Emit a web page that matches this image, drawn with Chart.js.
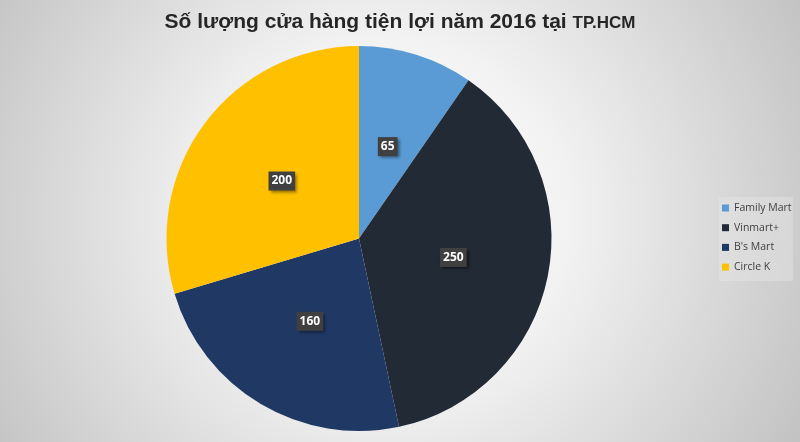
<!DOCTYPE html>
<html>
<head>
<meta charset="utf-8">
<script src="https://cdn.jsdelivr.net/npm/chart.js@4"></script>
<style>
  html, body { margin: 0; padding: 0; }
  body { width: 800px; height: 442px; overflow: hidden; }
  #wrap { width: 800px; height: 442px; position: relative; }
</style>
</head>
<body>
<div id="wrap"><canvas id="chartCanvas"></canvas></div>
<script>
const cuaHang = ["Family Mart", "Vinmart+", "B's Mart", "Circle K"];
const soLuong = [65, 250, 160, 200];
const mauSac = ["#5b9bd5", "#222a35", "#1f3864", "#ffc000"];
const tieuDe = "Số lượng cửa hàng tiện lợi năm 2016 tại ";
const tieuDeNho = "TP.HCM";

// nen xam dang radial
const nenPlugin = {
  id: "nen",
  beforeDraw(chart) {
    const ctx = chart.ctx;
    const w = chart.width, h = chart.height;
    ctx.save();
    const g = ctx.createRadialGradient(390, 215, 20, 390, 215, 470);
    g.addColorStop(0, "#ffffff");
    g.addColorStop(0.35, "#f2f2f2");
    g.addColorStop(1, "#c2c2c2");
    ctx.fillStyle = g;
    ctx.fillRect(0, 0, w, h);
    ctx.restore();
  }
};

// tieu de hai co chu
const tieuDePlugin = {
  id: "tieuDe",
  afterDraw(chart) {
    const ctx = chart.ctx;
    ctx.save();
    ctx.fillStyle = "#262626";
    ctx.textBaseline = "alphabetic";
    const f1 = "bold 21px 'Liberation Sans', Arial, sans-serif";
    const f2 = "bold 17px 'Liberation Sans', Arial, sans-serif";
    ctx.font = f1;
    const w1 = ctx.measureText(tieuDe).width;
    ctx.font = f2;
    const w2 = ctx.measureText(tieuDeNho).width;
    const x0 = 400 - (w1 + w2) / 2;
    ctx.font = f1;
    ctx.fillText(tieuDe, x0, 28);
    ctx.font = f2;
    ctx.fillText(tieuDeNho, x0 + w1, 28);
    ctx.restore();
  }
};

// nhan so lieu trong hop toi
const nhanPlugin = {
  id: "nhan",
  afterDatasetsDraw(chart) {
    const ctx = chart.ctx;
    const meta = chart.getDatasetMeta(0);
    ctx.save();
    ctx.font = "bold 12px 'Open Sans', sans-serif";
    ctx.textAlign = "center";
    ctx.textBaseline = "middle";
    meta.data.forEach((arc, i) => {
      const p = arc.getCenterPoint();
      const txt = String(chart.data.datasets[0].data[i]);
      const w = ctx.measureText(txt).width + 6;
      const h = 19;
      ctx.shadowColor = "rgba(0,0,0,0.45)";
      ctx.shadowBlur = 3;
      ctx.shadowOffsetX = 2;
      ctx.shadowOffsetY = 2;
      ctx.fillStyle = "#404040";
      ctx.fillRect(p.x - w / 2, p.y - h / 2, w, h);
      ctx.shadowColor = "transparent";
      ctx.fillStyle = "#ffffff";
      ctx.fillText(txt, p.x, p.y);
    });
    ctx.restore();
  }
};

// chu thich ben phai
const chuThichPlugin = {
  id: "chuThich",
  afterDraw(chart) {
    const ctx = chart.ctx;
    ctx.save();
    ctx.fillStyle = "rgba(235,235,235,0.35)";
    ctx.fillRect(719, 197, 74, 84);
    ctx.font = "10.5px 'Open Sans', sans-serif";
    ctx.textBaseline = "middle";
    chart.data.labels.forEach((ten, i) => {
      const y = 208 + i * 19.7;
      ctx.fillStyle = mauSac[i];
      ctx.fillRect(722, y - 3.5, 7, 7);
      ctx.fillStyle = "#404040";
      ctx.fillText(ten, 734, y);
    });
    ctx.restore();
  }
};

const ctx = document.getElementById("chartCanvas").getContext("2d");
const chart = new Chart(ctx, {
  type: "pie",
  data: {
    labels: cuaHang,
    datasets: [{
      data: soLuong,
      backgroundColor: mauSac,
      borderWidth: 0
    }]
  },
  options: {
    responsive: true,
    maintainAspectRatio: false,
    animation: false,
    layout: {
      padding: { top: 46, bottom: 11, left: 166, right: 248 }
    },
    plugins: {
      legend: { display: false },
      title: { display: false },
      tooltip: { enabled: false }
    }
  },
  plugins: [nenPlugin, nhanPlugin, tieuDePlugin, chuThichPlugin]
});
</script>
</body>
</html>
